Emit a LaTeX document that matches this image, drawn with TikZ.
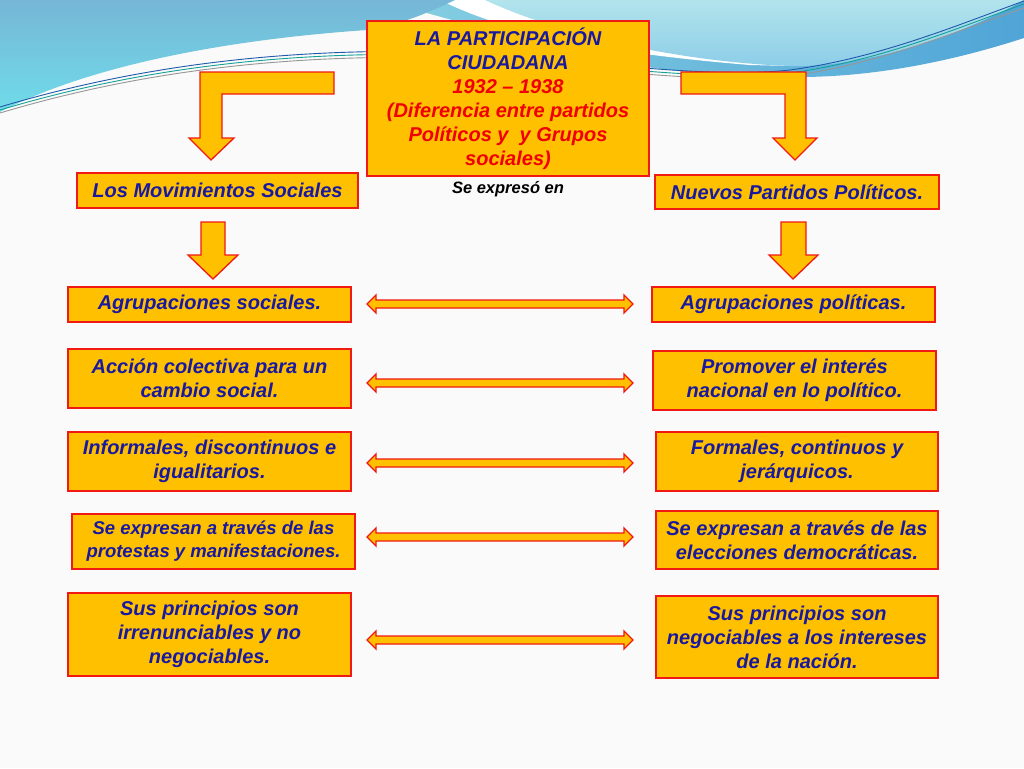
\documentclass[tikz,border=0pt]{standalone}
\usepackage{fontspec}
\setmainfont{Liberation Sans}
\usetikzlibrary{calc}
\definecolor{boxfill}{RGB}{255,192,0}
\definecolor{boxline}{RGB}{240,25,20}
\definecolor{txtblue}{RGB}{25,25,160}
\definecolor{txtred}{RGB}{240,0,0}
\definecolor{bgcol}{RGB}{250,250,250}
\definecolor{lbA}{RGB}{112,220,234}
\definecolor{lbB}{RGB}{118,182,214}
\definecolor{brA}{RGB}{135,208,226}
\definecolor{brB}{RGB}{80,165,215}
\definecolor{trA}{RGB}{178,228,236}
\definecolor{trB}{RGB}{140,205,232}
\definecolor{lineteal}{RGB}{20,160,150}
\definecolor{lineblue}{RGB}{30,90,170}
\definecolor{linegrey}{RGB}{150,150,150}
\begin{document}
\begin{tikzpicture}[x=1pt,y=-1pt,
  box/.style={draw=boxline, line width=1.6pt, fill=boxfill, text=txtblue, align=center, inner sep=0pt,
    font=\fontsize{20}{24}\selectfont\bfseries\itshape},
  blockarrow/.style={draw=boxline, line width=1.3pt, fill=boxfill, line join=miter},
  thinline/.style={line width=0.9pt}]
\useasboundingbox (0,0) rectangle (1024,768);
\fill[bgcol] (0,0) rectangle (1024,768);
% background waves
\shade[left color=brA, right color=brB] (380,0) -- (1024,0) -- (1024,38) .. controls (950,62) and (870,78) .. (790,77) .. controls (720,76) and (650,72) .. (560,50) -- cycle;
\fill[white] (440,0) .. controls (520,40) and (640,56) .. (750,65) -- (790,66) -- (790,0) -- cycle;
\shade[top color=trA, bottom color=trB] (485,0) .. controls (560,35) and (680,62) .. (790,66) .. controls (880,68) and (980,25) .. (1024,0) -- cycle;
\shade[top color=lbB, bottom color=lbA] (0,0) -- (455,0) .. controls (430,12) and (400,25) .. (367,30) .. controls (250,38) and (100,60) .. (0,112) -- cycle;
\draw[thinline, linegrey] (0,113) .. controls (150,68) and (300,54) .. (450,58) .. controls (560,63) and (700,86) .. (790,76) .. controls (880,64) and (960,30) .. (1024,8);
\draw[thinline, lineteal] (0,110) .. controls (150,65) and (300,51) .. (450,55) .. controls (560,60) and (700,83) .. (790,73) .. controls (880,61) and (960,27) .. (1024,4);
\draw[thinline, lineblue] (0,107) .. controls (150,62) and (300,48) .. (450,52) .. controls (560,57) and (700,80) .. (790,70) .. controls (880,58) and (960,24) .. (1024,1);

% bent arrows
\draw[blockarrow] (334,72) -- (200,72) -- (200,138) -- (189,138) -- (211,160) -- (234,138) -- (222,138) -- (222,94) -- (334,94) -- cycle;
\draw[blockarrow] (681,72) -- (806,72) -- (806,138) -- (817,138) -- (795,160) -- (773,138) -- (785,138) -- (785,94) -- (681,94) -- cycle;

% title
\node[box, minimum width=282pt, minimum height=155pt] (title) at (508,98.5)
  {\textcolor{txtblue}{LA PARTICIPACIÓN}\\
   \textcolor{txtblue}{CIUDADANA}\\
   \textcolor{txtred}{1932 – 1938}\\
   \textcolor{txtred}{(Diferencia entre partidos}\\
   \textcolor{txtred}{Políticos y~ y Grupos}\\
   \textcolor{txtred}{sociales)}};
\node[font=\fontsize{16.5}{20}\selectfont\bfseries\itshape, text=black, inner sep=0pt] (expr) at (508,189) {Se expresó en};

\node[box, minimum width=281pt, minimum height=35pt] (lms) at (217.5,190.5) {Los Movimientos Sociales};
\node[box, minimum width=284pt, minimum height=34pt] (npp) at (797,192) {Nuevos Partidos Políticos.};

% down arrows
\draw[blockarrow] (201,222) -- (225,222) -- (225,255) -- (238,255) -- (213,279) -- (188,255) -- (201,255) -- cycle;
\draw[blockarrow] (781,222) -- (806,222) -- (806,255) -- (818,255) -- (793,279) -- (769,255) -- (781,255) -- cycle;

% left column
\node[box, minimum width=283pt, minimum height=35pt] (L1) at (209.5,304.5) {Agrupaciones sociales.};
\node[box, minimum width=283pt, minimum height=59pt] (L2) at (209.5,378.5) {Acción colectiva para un\\cambio social.};
\node[box, minimum width=283pt, minimum height=59pt] (L3) at (209.5,461.5) {Informales, discontinuos e\\igualitarios.};
\node[box, minimum width=283pt, minimum height=55pt, font=\fontsize{18.5}{23}\selectfont\bfseries\itshape] (L4) at (213.5,541.5) {Se expresan a través de las\\protestas y manifestaciones.};
\node[box, minimum width=283pt, minimum height=83pt] (L5) at (209.5,634.5) {Sus principios son\\irrenunciables y no\\negociables.};

% right column
\node[box, minimum width=283pt, minimum height=35pt] (R1) at (793.5,304.5) {Agrupaciones políticas.};
\node[box, minimum width=283pt, minimum height=59pt] (R2) at (794.5,380.5) {Promover el interés\\nacional en lo político.};
\node[box, minimum width=282pt, minimum height=59pt] (R3) at (797,461.5) {Formales, continuos y\\jerárquicos.};
\node[box, minimum width=282pt, minimum height=58pt] (R4) at (797,540) {Se expresan a través de las\\elecciones democráticas.};
\node[box, minimum width=282pt, minimum height=82pt] (R5) at (797,637) {Sus principios son\\negociables a los intereses\\de la nación.};

% double arrows
\foreach \yy/\nm in {304/1,383/2,463/3,537/4,640/5}{
  \coordinate (da\nm) at (367,\yy);
  \draw[blockarrow] (da\nm) -- ++(9,-9) -- ++(0,5) -- ++(248,0) -- ++(0,-5) -- ++(9,9) -- ++(-9,9) -- ++(0,-5) -- ++(-248,0) -- ++(0,5) -- cycle;
}
\end{tikzpicture}
\end{document}
